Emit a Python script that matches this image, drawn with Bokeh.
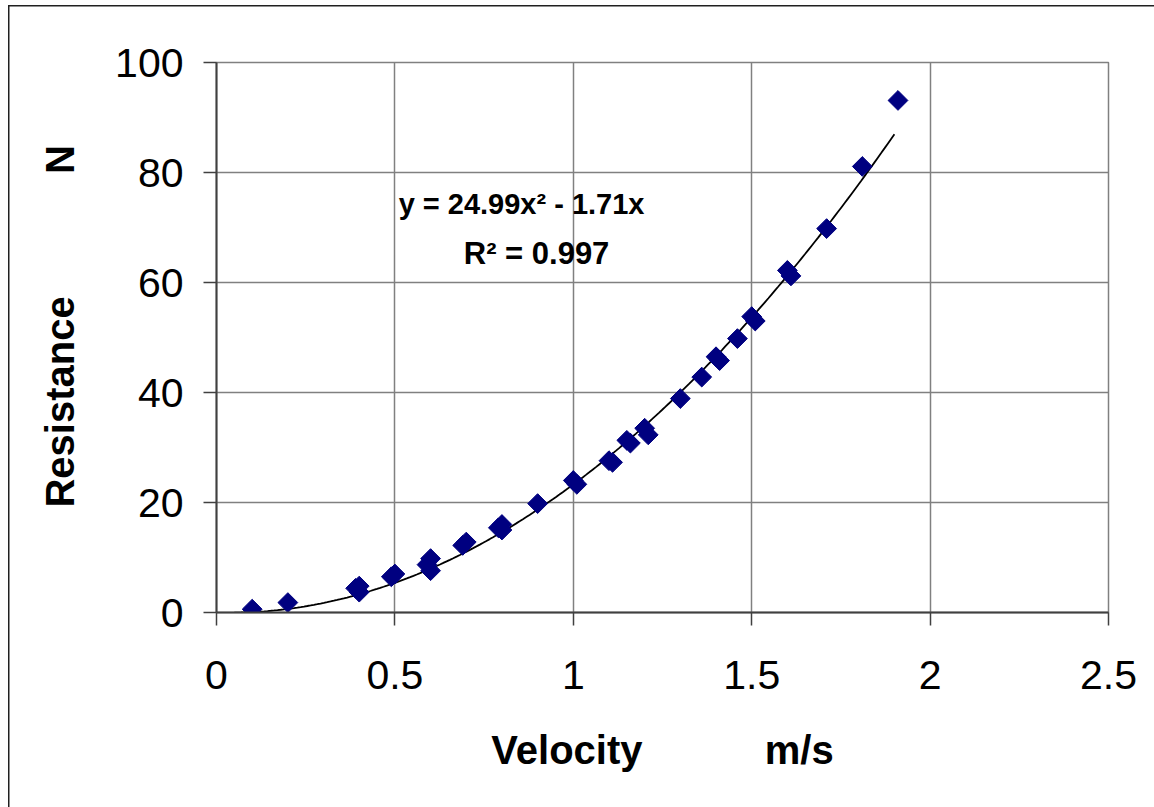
import numpy as np
from bokeh.plotting import figure
from bokeh.models import Range1d, FixedTicker
from bokeh.core.properties import value
from bokeh.embed import file_html
from bokeh.resources import INLINE

# --- data ---
velocity = [0.10, 0.20, 0.39, 0.40, 0.40, 0.49, 0.50, 0.59, 0.60, 0.60,
            0.69, 0.70, 0.79, 0.80, 0.80, 0.90, 1.00, 1.01, 1.10, 1.11,
            1.15, 1.16, 1.20, 1.21, 1.30, 1.36, 1.40, 1.41, 1.46, 1.50,
            1.51, 1.60, 1.61, 1.71, 1.81, 1.91]
resistance = [0.6, 1.8, 4.4, 4.8, 3.7, 6.5, 7.0, 8.7, 9.8, 7.6,
              12.2, 12.8, 15.4, 16.0, 15.0, 19.8, 24.0, 23.3, 27.6, 27.3,
              31.3, 30.8, 33.5, 32.3, 38.9, 42.8, 46.5, 45.8, 49.8, 53.8,
              53.0, 62.2, 61.2, 69.8, 81.1, 93.1]

# displayed trendline: y = a x^2 + b x
coef_a = 24.99
coef_b = -1.71
trend_start, trend_end = 0.05, 1.90

x_ticks = [0, 0.5, 1, 1.5, 2, 2.5]
x_tick_labels = ["0", "0.5", "1", "1.5", "2", "2.5"]
y_ticks = [0, 20, 40, 60, 80, 100]
y_tick_labels = ["0", "20", "40", "60", "80", "100"]

eq_line1 = "y = 24.99x² - 1.71x"
eq_line2 = "R² = 0.997"
eq_pos1 = (0.855, 74.3)
eq_pos2 = (0.897, 65.3)

FONT = "Liberation Sans"

p = figure(width=1154, height=807, output_backend="svg", toolbar_location=None,
           x_range=Range1d(0, 2.5), y_range=Range1d(0, 100),
           min_border_left=216, min_border_right=46, min_border_top=62,
           min_border_bottom=195)
p.background_fill_color = "white"
p.border_fill_color = None
p.outline_line_color = "#808080"
p.outline_line_width = 1.5
# outer chart border: only the left and top edges are visible in the reference
p.styles = {"background": "linear-gradient(#202020,#202020) 8px 5px / 1.5px 100% no-repeat, "
                          "linear-gradient(#202020,#202020) 8px 5px / 100% 1.5px no-repeat, white"}

# grid
p.xgrid.ticker = FixedTicker(ticks=x_ticks)
p.ygrid.ticker = FixedTicker(ticks=y_ticks)
for g in (p.xgrid, p.ygrid):
    g.grid_line_color = "#808080"
    g.grid_line_width = 1.5

# axes
for ax, ticks, labels in ((p.xaxis, x_ticks, x_tick_labels), (p.yaxis, y_ticks, y_tick_labels)):
    ax.ticker = FixedTicker(ticks=ticks)
    ax.major_label_overrides = {t: l for t, l in zip(ticks, labels)}
    ax.axis_line_color = "#404040"
    ax.axis_line_width = 2
    ax.major_tick_line_color = "#404040"
    ax.major_tick_line_width = 1.5
    ax.major_tick_out = 13
    ax.major_tick_in = 0
    ax.minor_tick_line_color = None
    ax.major_label_text_font = FONT
    ax.major_label_text_font_size = "41px"
    ax.major_label_text_color = "black"
    ax.axis_label_text_font = FONT
    ax.axis_label_text_font_size = "40px"
    ax.axis_label_text_font_style = "bold"
    ax.axis_label_text_color = "black"

nb = "\u00a0" * 11
p.xaxis.axis_label = "Velocity" + nb + "m/s"
p.yaxis.axis_label = "\u00a0\u00a0" + "Resistance" + nb + "N"
p.xaxis.major_label_standoff = 35
p.yaxis.major_label_standoff = 20
p.xaxis.axis_label_standoff = 36
p.yaxis.axis_label_standoff = 30

# trendline
tx = np.linspace(trend_start, trend_end, 200)
ty = coef_a * tx ** 2 + coef_b * tx
p.line(tx, ty, line_color="black", line_width=1.8)

# data points
p.scatter(velocity, resistance, marker="square", angle=np.pi / 4, size=14,
          fill_color="#000080", line_color="#000080")

# equation
p.text([eq_pos1[0]], [eq_pos1[1]], text=[eq_line1], text_font=value(FONT),
       text_font_size="29px", text_font_style="bold", text_align="center",
       text_baseline="middle", text_color="black")
p.text([eq_pos2[0]], [eq_pos2[1]], text=[eq_line2], text_font=value(FONT),
       text_font_size="31px", text_font_style="bold", text_align="center",
       text_baseline="middle", text_color="black")

open("out.html", "w").write(file_html(p, INLINE))
